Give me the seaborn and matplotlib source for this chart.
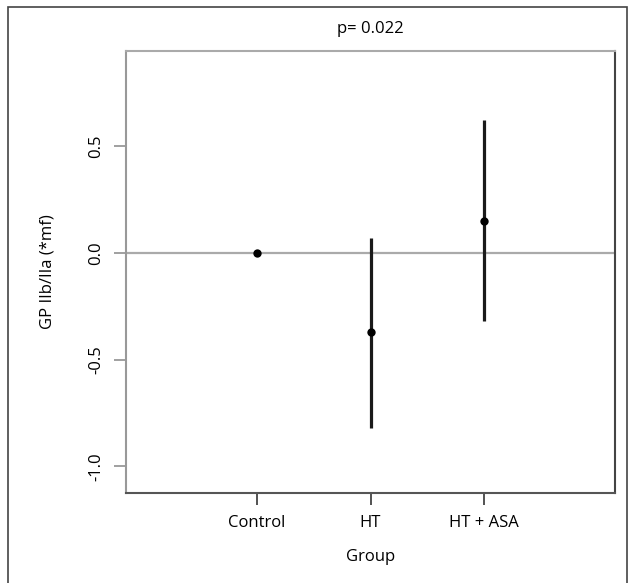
import matplotlib
matplotlib.use('Agg')
import matplotlib.pyplot as plt
import seaborn as sns
import pandas as pd
from matplotlib.patches import Rectangle

## Datos
grupos = ['Control', 'HT', 'HT + ASA']
media = [0.0, -0.37, 0.15]
limite_inf = [-0.012, -0.82, -0.32]
limite_sup = [0.012, 0.07, 0.625]
yticks = [-1.0, -0.5, 0.0, 0.5]

df = pd.DataFrame({'grupo': grupos, 'media': media,
                   'inf': limite_inf, 'sup': limite_sup})

sns.set_style('white')
plt.rcParams['font.family'] = ['Open Sans', 'DejaVu Sans']
plt.rcParams['text.color'] = 'black'
plt.rcParams['axes.labelcolor'] = 'black'
plt.rcParams['xtick.labelcolor'] = 'black'
plt.rcParams['ytick.labelcolor'] = 'black'

fig = plt.figure(figsize=(6.35, 5.83), dpi=100)
ax = fig.add_axes([126/635, 1 - 493/583, (615 - 126)/635, (493 - 51)/583])

# linea de referencia en 0
ax.axhline(0, color='#aaaaaa', linewidth=1.6, zorder=1)

x = range(len(df))
ax.vlines(x, df['inf'], df['sup'], color='#1a1a1a', linewidth=2.3, zorder=2)
sns.scatterplot(x=list(x), y=df['media'], ax=ax, color='black', s=36,
                edgecolor='black', linewidth=0, zorder=3, legend=False)

ax.set_xlim(-1.15, 3.15)
ax.set_ylim(-1.125, 0.947)
ax.set_xticks(list(x))
ax.set_xticklabels(grupos)
ax.set_yticks(yticks)
ax.set_yticklabels([f'{v:.1f}' for v in yticks], rotation=90, va='center')

ax.tick_params(axis='x', length=8.5, width=1.3, color='#444444', pad=7, labelsize=12)
ax.tick_params(axis='y', length=8.5, width=1.3, color='#999999', pad=7, labelsize=12)
ax.tick_params(left=True, bottom=True)

ax.set_xlabel('Group', fontsize=12, labelpad=13)
ax.set_ylabel('GP IIb/IIa (*mf)', fontsize=12, labelpad=24)
ax.set_title('p= 0.022', fontsize=12, pad=13, color='black')

for lado, color in [('left', '#999999'), ('top', '#aaaaaa'),
                    ('right', '#444444'), ('bottom', '#555555')]:
    ax.spines[lado].set_visible(True)
    ax.spines[lado].set_color(color)
    ax.spines[lado].set_linewidth(1.5)

# marco exterior
fig.patches.append(Rectangle((8/635, -0.05), (627 - 8)/635, 1.05 - 7/583,
                             transform=fig.transFigure, fill=False,
                             edgecolor='#444444', linewidth=1.2))

fig.savefig('out.png', dpi=100)
